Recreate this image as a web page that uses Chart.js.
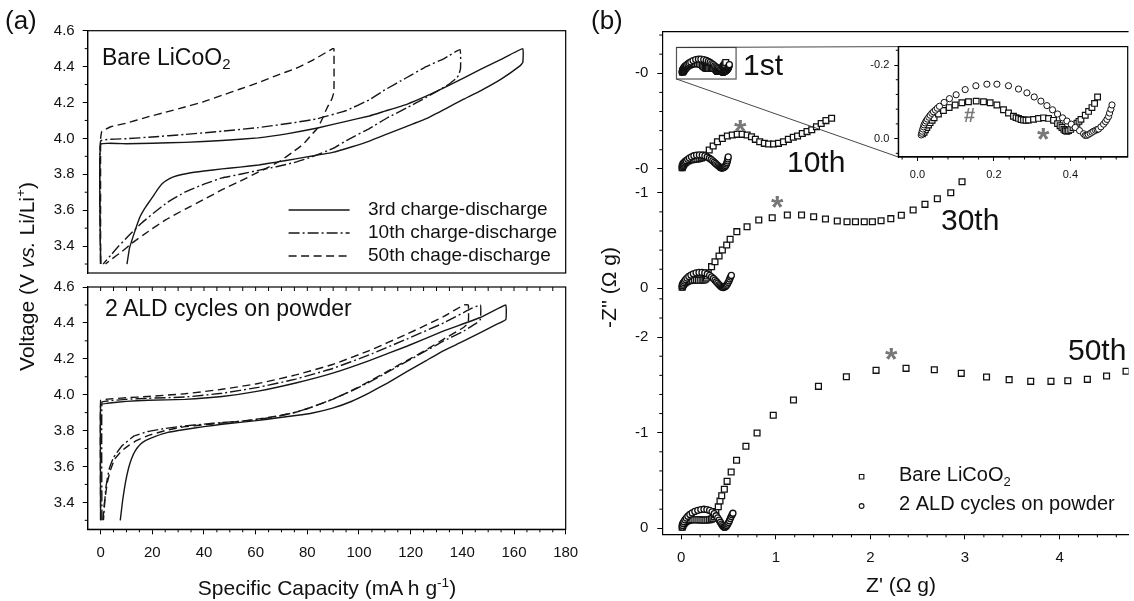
<!DOCTYPE html>
<html>
<head>
<meta charset="utf-8">
<title>LiCoO2 charge-discharge and impedance</title>
<script src="https://cdn.jsdelivr.net/npm/chart.js@4.4.1/dist/chart.umd.min.js"></script>
<style>
  html, body { margin: 0; padding: 0; background: #fff; overflow: hidden; }
  #page { position: relative; width: 1134px; height: 601px; overflow: hidden;
          font-family: "Liberation Sans", Arial, Helvetica, sans-serif; color: #111; }
  canvas { position: absolute; }
  .lbl { position: absolute; white-space: nowrap; line-height: 1; }
  .rot { text-align: center; transform: rotate(-90deg); transform-origin: 50% 50%; }
  .star { color: #777; font-weight: bold; }
  sub, sup { font-size: 0.65em; line-height: 0; }
  sub { vertical-align: -0.3em; }
  sup { vertical-align: 0.6em; }
</style>
</head>
<body>
<div id="page">
  <canvas id="capTop" width="600" height="290" style="left:0px;top:0px"></canvas>
  <canvas id="capBottom" width="600" height="331" style="left:0px;top:270px"></canvas>
  <canvas id="nyqMain" width="544" height="601" style="left:590px;top:0px"></canvas>
  <canvas id="nyqInset" width="284" height="160" style="left:850px;top:35px"></canvas>

  <div class="lbl" style="left:5px;top:7px;font-size:26px">(a)</div>
  <div class="lbl" style="left:591px;top:7px;font-size:26px">(b)</div>
  <div class="lbl" style="left:102px;top:46px;font-size:23px">Bare LiCoO<sub>2</sub></div>
  <div class="lbl" style="left:105px;top:297px;font-size:23px">2 ALD cycles on powder</div>
  <div class="lbl" style="left:127px;width:400px;text-align:center;top:577px;font-size:21px">Specific Capacity (mA h g<sup>-1</sup>)</div>
  <div class="lbl rot" style="left:-124px;top:266px;width:300px;font-size:21px">Voltage (V <i>vs.</i> Li/Li<sup>+</sup>)</div>

  <div class="lbl" style="left:751px;width:300px;text-align:center;top:574px;font-size:21px">Z' (&Omega; g)</div>
  <div class="lbl rot" style="left:458px;top:277px;width:300px;font-size:21px">-Z'' (&Omega; g)</div>
  <div class="lbl" style="left:743px;top:50px;font-size:30px">1st</div>
  <div class="lbl" style="left:787px;top:147px;font-size:30px">10th</div>
  <div class="lbl" style="left:941px;top:205px;font-size:30px">30th</div>
  <div class="lbl" style="left:1068px;top:335px;font-size:30px">50th</div>
  <div class="lbl star" style="left:734px;top:115px;font-size:32px">*</div>
  <div class="lbl star" style="left:771px;top:191px;font-size:32px">*</div>
  <div class="lbl star" style="left:885px;top:343px;font-size:32px">*</div>
  <div class="lbl star" style="left:1037px;top:123px;font-size:32px">*</div>
  <div class="lbl star" style="left:964px;top:105px;font-size:20px">#</div>
</div>

<script>
// ---------- panel (a): specific capacity (mA h g-1) vs voltage (V) ----------
const capTicks = [0, 20, 40, 60, 80, 100, 120, 140, 160, 180];
const capMinor = [5, 10, 15, 25, 30, 35, 45, 50, 55, 65, 70, 75, 85, 90, 95, 105, 110, 115,
                  125, 130, 135, 145, 150, 155, 165, 170, 175];
const voltTicks = [3.4, 3.6, 3.8, 4.0, 4.2, 4.4, 4.6];
const voltLabels = ['3.4', '3.6', '3.8', '4.0', '4.2', '4.4', '4.6'];
const voltMinor = [3.3, 3.5, 3.7, 3.9, 4.1, 4.3, 4.5];
const cycleLabels = ['3rd charge-discharge', '10th charge-discharge', '50th chage-discharge'];

// bare LiCoO2
const bare3 = [[0,3.30],[0,3.967],[10,3.970],[20,3.973],[32.6,3.978],[47,3.988],[61,4.003],[72,4.025],
  [84,4.058],[95,4.095],[104,4.125],[110,4.152],[118.5,4.19],[126,4.235],[134,4.29],[141,4.34],[147,4.385],
  [155,4.44],[163.4,4.50],[163.4,4.423],[162.3,4.404],[155,4.33],[147,4.265],[140,4.215],[134,4.169],
  [126,4.11],[118.5,4.067],[111,4.025],[104,3.985],[97,3.952],[89.8,3.922],[82,3.902],[75.5,3.886],
  [68,3.868],[61.2,3.852],[54,3.84],[47,3.83],[40,3.818],[34,3.806],[29.5,3.792],[26.5,3.775],[24,3.75],
  [22,3.715],[20.2,3.675],[18.5,3.64],[16.9,3.606],[15.3,3.565],[14,3.515],[12.5,3.45],[11.2,3.39],[10.2,3.30]];
const bare10 = [[0,3.30],[0,3.985],[10,3.998],[20,4.008],[32.6,4.022],[47,4.04],[61,4.06],[75,4.088],
  [84,4.11],[95,4.155],[104,4.215],[110,4.27],[118,4.335],[126,4.40],[133,4.445],[139.1,4.495],[139.3,4.39],
  [138.5,4.35],[137.3,4.33],[134.6,4.30],[126,4.228],[118.5,4.17],[111,4.115],[104,4.055],[96,3.995],
  [90,3.945],[82,3.898],[75.5,3.868],[68,3.842],[61,3.822],[54,3.80],[47,3.78],[40,3.745],[32.6,3.70],
  [26,3.645],[21,3.59],[16,3.53],[11,3.46],[7,3.40],[4,3.35],[1,3.30]];
const bare50 = [[0,3.30],[0,4.0],[0.5,4.04],[4,4.065],[10,4.085],[18.3,4.12],[25,4.145],[32.6,4.175],
  [40,4.205],[47,4.24],[54,4.275],[61,4.31],[68,4.35],[75.5,4.39],[82,4.435],[89.8,4.5],[90.3,4.5],
  [90.3,4.26],[89.5,4.22],[88,4.18],[87,4.15],[85.5,4.10],[84,4.058],[81,4.01],[78.4,3.967],[74,3.92],
  [69.8,3.877],[65,3.84],[61.2,3.813],[54,3.762],[47,3.714],[40,3.66],[32.6,3.605],[25,3.545],[18.3,3.48],
  [12,3.415],[8.3,3.37],[4.5,3.33],[1.9,3.30]];

// 2 ALD cycles on powder
const ald3 = [[0,3.30],[0,3.944],[2.6,3.952],[10,3.963],[18.3,3.969],[32.6,3.974],[47,3.99],[61,4.02],
  [75.5,4.065],[89.8,4.12],[104,4.19],[118.5,4.27],[132.8,4.355],[147,4.43],[156.8,4.50],[156.8,4.418],
  [153,4.39],[147,4.346],[140,4.295],[132.8,4.246],[126,4.19],[118.5,4.128],[111,4.065],[104,4.01],
  [97,3.962],[89.8,3.925],[82,3.898],[75.5,3.884],[68,3.87],[61.2,3.857],[54,3.846],[47,3.835],[40,3.822],
  [32.6,3.806],[26,3.79],[21.2,3.768],[17.5,3.745],[15.5,3.725],[13.5,3.69],[12,3.645],[10.8,3.59],
  [9.6,3.51],[8.6,3.42],[7.6,3.30]];
const ald10 = [[0.5,3.30],[0.5,3.958],[2.6,3.965],[10,3.974],[18.3,3.98],[32.6,3.987],[47,4.008],[61,4.041],
  [75.5,4.087],[89.8,4.146],[104,4.222],[118.5,4.31],[132.8,4.40],[142.8,4.475],[147,4.50],[147,4.42],
  [145.6,4.40],[140,4.35],[132.8,4.30],[126,4.245],[118.5,4.185],[111,4.125],[104,4.07],[97,4.02],
  [89.8,3.975],[82,3.932],[75.5,3.902],[68,3.878],[61.2,3.862],[54,3.852],[47,3.845],[40,3.836],
  [32.6,3.826],[25,3.812],[18.3,3.795],[13,3.77],[8.3,3.715],[5,3.65],[3.3,3.585],[2,3.48],[1.1,3.30]];
const ald50 = [[0,3.30],[0,3.968],[2.6,3.975],[10,3.983],[18.3,3.99],[32.6,4.005],[47,4.03],[61,4.062],
  [75.5,4.11],[89.8,4.168],[104,4.246],[118.5,4.337],[132.8,4.436],[140.6,4.50],[142.3,4.50],[142.3,4.40],
  [140,4.37],[132.8,4.31],[126,4.25],[118.5,4.19],[111,4.13],[104,4.074],[97,4.022],[89.8,3.974],[82,3.932],
  [75.5,3.902],[68,3.88],[61.2,3.865],[54,3.852],[47,3.842],[40,3.832],[32.6,3.822],[25,3.80],[18.3,3.772],
  [14,3.745],[11.2,3.72],[8,3.685],[5.4,3.64],[3.8,3.58],[2.6,3.51],[1.5,3.40],[0.9,3.30]];

// ---------- panel (b): Nyquist plots, [Z' , -Z''] in ohm g ----------
const cycleNames = ['1st', '10th', '30th', '50th'];
const cycleOffsets = [4.76, 3.76, 2.51, 0];
const zTicks = [0, 1, 2, 3, 4];
const zMinor = [0.2, 0.4, 0.6, 0.8, 1.2, 1.4, 1.6, 1.8, 2.2, 2.4, 2.6, 2.8, 3.2, 3.4, 3.6, 3.8, 4.2, 4.4, 4.6];
const zzTicks = [0, 1, 2, 2.51, 3.51, 3.76, 4.76];
const zzLabels = ['0', '-1', '-2', '0', '-1', '-0', '-0'];
const zzMinor = [0.2, 0.4, 0.6, 0.8, 1.2, 1.4, 1.6, 1.8, 2.2, 2.4, 2.71, 2.91, 3.11, 3.31, 3.96, 4.16, 4.36, 4.56, 4.96, 5.16];
const insetXTicks = [0, 0.2, 0.4];
const insetXLabels = ['0.0', '0.2', '0.4'];
const insetXMinor = [-0.04, 0.04, 0.08, 0.12, 0.16, 0.24, 0.28, 0.32, 0.36, 0.44, 0.48, 0.52];
const insetYTicks = [0, 0.2];
const insetYLabels = ['0.0', '-0.2'];
const insetYMinor = [-0.04, 0.04, 0.08, 0.12, 0.16, 0.24];
const seriesNames = [['Bare LiCoO', '2'], ['2 ALD cycles on powder', '']];

const nyqAld1 = [[.010,.010],[.0115,.0146],[.0125,.020],[.0141,.0261],[.016,.032],[.0175,.0373],[.020,.0425],
  [.0228,.0478],[.026,.053],[.0298,.0582],[.0335,.0635],[.0377,.0687],[.042,.073],[.0471,.0773],[.052,.0825],
  [.0576,.0877],[.0699,.0982],[.0838,.1086],[.1013,.1191],[.1249,.1332],[.1529,.1436],[.1817,.1478],
  [.2079,.1478],[.2382,.1436],[.2644,.1347],[.2864,.1243],[.3055,.1131],[.323,.1018],[.3387,.0896],
  [.3534,.0783],[.3665,.0668],[.3796,.0564],[.3911,.0478],[.4024,.0392],[.4128,.0303],[.4241,.0217],
  [.4346,.0131],[.439,.0086],[.443,.009],[.447,.011],[.452,.014],[.4565,.0172],[.461,.020],[.466,.0225],
  [.470,.0245],[.4738,.0261],[.480,.032],[.4869,.0392],[.492,.046],[.4958,.0522],[.500,.060],[.5026,.0695],
  [.506,.080],[.5089,.0914]];
const nyqBare1 = [[.013,.013],[.0175,.0172],[.021,.024],[.0246,.0303],[.029,.037],[.0332,.0433],[.0385,.050],
  [.0437,.0564],[.055,.0668],[.0681,.0765],[.083,.0843],[.0987,.0914],[.1162,.0974],[.1335,.100],
  [.1537,.1018],[.1728,.100],[.1903,.0974],[.2079,.0914],[.2251,.0783],[.2382,.0695],[.2513,.0608],
  [.258,.057],[.2644,.0548],[.271,.052],[.2775,.0504],[.284,.050],[.2906,.0504],[.3037,.0522],[.3168,.0548],
  [.3298,.0564],[.3429,.0548],[.356,.0496],[.3665,.0407],[.373,.035],[.378,.0303],[.383,.025],[.3866,.0217],
  [.391,.020],[.3953,.0217],[.401,.025],[.4068,.0303],[.412,.036],[.4173,.0418],[.4225,.047],[.4277,.0522],
  [.439,.0634],[.4477,.0739],[.4565,.0843],[.4633,.0956],[.4712,.1131]];
const nyqAld10 = [[.010,.012],[.013,.025],[.017,.038],[.023,.050],[.030,.062],[.040,.074],[.052,.086],
  [.068,.100],[.086,.113],[.108,.126],[.134,.137],[.162,.144],[.192,.146],[.222,.143],[.250,.135],
  [.275,.124],[.297,.111],[.316,.098],[.333,.084],[.349,.070],[.363,.057],[.376,.045],[.389,.034],
  [.401,.024],[.413,.015],[.424,.009],[.434,.008],[.444,.012],[.454,.018],[.463,.026],[.471,.036],
  [.478,.050],[.484,.066],[.489,.084],[.493,.104],[.497,.125]];
const nyqBare10 = [[.010,.012],[.013,.022],[.017,.032],[.022,.042],[.029,.052],[.038,.062],[.049,.071],
  [.062,.079],[.077,.086],[.094,.092],[.113,.097],[.133,.100],[.154,.102],[.175,.104],[.195,.108],
  [.213,.114],[.229,.122],[.242,.132],[.254,.145],[.296,.197],[.338,.239],[.383,.284],[.435,.319],
  [.488,.344],[.540,.354],[.592,.361],[.644,.361],[.697,.354],[.743,.336],[.784,.309],[.830,.284],
  [.879,.267],[.924,.260],[.976,.260],[1.028,.267],[1.081,.284],[1.133,.309],[1.185,.330],[1.230,.344],
  [1.28,.37],[1.33,.39],[1.38,.41],[1.43,.44],[1.48,.475],[1.53,.505],[1.59,.53]];
const nyqAld30 = [[.010,.012],[.013,.028],[.018,.044],[.025,.060],[.034,.076],[.046,.092],[.061,.108],
  [.080,.124],[.102,.139],[.128,.152],[.157,.162],[.188,.167],[.219,.167],[.249,.161],[.276,.150],
  [.300,.136],[.321,.120],[.340,.103],[.357,.086],[.372,.069],[.386,.054],[.399,.040],[.411,.028],
  [.423,.018],[.434,.011],[.445,.009],[.456,.013],[.467,.020],[.477,.030],[.487,.044],[.496,.060],
  [.505,.078],[.513,.098],[.521,.118],[.530,.135]];
const nyqBare30 = [[.010,.012],[.013,.022],[.017,.032],[.023,.042],[.030,.051],[.040,.060],[.052,.068],
  [.066,.075],[.082,.080],[.100,.084],[.120,.086],[.140,.087],[.160,.087],[.180,.086],[.200,.085],
  [.220,.085],[.238,.088],[.253,.095],[.265,.108],[.276,.130],[.286,.164],[.321,.227],[.357,.279],
  [.400,.338],[.435,.401],[.481,.453],[.517,.513],[.588,.593],[.696,.645],[.820,.715],[.962,.739],
  [1.122,.767],[1.272,.767],[1.400,.749],[1.525,.725],[1.650,.704],[1.753,.697],[1.842,.697],[1.935,.697],
  [2.021,.697],[2.113,.708],[2.216,.729],[2.327,.764],[2.452,.820],[2.577,.879],[2.708,.938],[2.850,1.000],
  [2.969,1.116]];
const nyqAld50 = [[.010,.012],[.014,.030],[.020,.050],[.028,.069],[.039,.088],[.053,.107],[.070,.126],
  [.091,.144],[.116,.161],[.144,.176],[.175,.188],[.207,.196],[.240,.199],[.271,.196],[.300,.187],
  [.326,.172],[.349,.153],[.369,.131],[.386,.108],[.401,.085],[.414,.063],[.426,.043],[.437,.027],
  [.447,.015],[.456,.010],[.465,.012],[.474,.019],[.483,.030],[.492,.044],[.501,.061],[.510,.080],
  [.519,.101],[.528,.122],[.538,.142],[.547,.157]];
const nyqBare50 = [[.010,.012],[.014,.024],[.019,.036],[.026,.048],[.035,.059],[.046,.069],[.060,.077],
  [.076,.083],[.094,.087],[.114,.089],[.135,.090],[.156,.090],[.177,.089],[.198,.088],[.219,.087],
  [.240,.086],[.260,.086],[.280,.087],[.300,.090],[.318,.096],[.334,.106],[.348,.122],[.358,.145],
  [.366,.174],[.392,.226],[.410,.286],[.428,.341],[.456,.408],[.485,.491],[.528,.589],[.585,.711],
  [.684,.858],[.802,.997],[.973,1.182],[1.187,1.342],[1.451,1.485],[1.746,1.586],[2.060,1.652],
  [2.377,1.673],[2.676,1.659],[2.961,1.621],[3.228,1.583],[3.467,1.555],[3.695,1.537],[3.909,1.537],
  [4.087,1.544],[4.294,1.558],[4.497,1.593],[4.703,1.642]];

const nyqAld = [nyqAld1, nyqAld10, nyqAld30, nyqAld50];
const nyqBare = [nyqBare1, nyqBare10, nyqBare30, nyqBare50];

// box around the 1st-cycle spectra that the inset enlarges
const zoomBoxX = [-0.05, 0.58];
const zoomBoxY = [-0.06, 0.27];

// ---------- helpers ----------
const FONT = '"Liberation Sans", Arial, Helvetica, sans-serif';
Chart.defaults.font.family = FONT;
Chart.defaults.color = '#111';

const MAIN_POS = { left: 590, top: 0 };
const INSET_POS = { left: 850, top: 35 };

const pairs = arr => arr.map(([x, y]) => ({ x, y }));
const shifted = (arr, dy) => arr.map(([x, y]) => ({ x, y: y + dy }));

function axis(o) {
  return {
    type: 'linear',
    position: o.position,
    display: o.display !== false,
    min: o.min,
    max: o.max,
    afterBuildTicks: scale => { scale.ticks = o.ticks.map(v => ({ value: v })); },
    afterFit: scale => {
      if (o.position === 'left') scale.width = o.size; else scale.height = o.size;
    },
    grid: { drawOnChartArea: false, drawTicks: true, tickLength: o.tickLen, color: '#000', lineWidth: 1 },
    border: { display: true, color: '#000', width: 1.2 },
    ticks: {
      autoSkip: false, maxRotation: 0, minRotation: 0, padding: o.pad, color: '#111',
      font: { size: o.fontSize },
      callback: (v, i) => o.labels[i]
    }
  };
}

function drawRich(ctx, parts, x, y, size) {
  ctx.font = size + 'px ' + FONT;
  ctx.fillText(parts[0], x, y);
  if (parts[1]) {
    const w = ctx.measureText(parts[0]).width;
    ctx.font = Math.round(size * 0.65) + 'px ' + FONT;
    ctx.fillText(parts[1], x + w, y + size * 0.25);
  }
}

// frame, minor ticks and extra drawings on top of a chart
function decor(cfg) {
  return {
    id: 'decor',
    beforeDraw(chart) {
      if (!cfg.whiteArea) return;
      const a = chart.chartArea, ctx = chart.ctx;
      ctx.save();
      ctx.fillStyle = '#fff';
      ctx.fillRect(a.left, a.top, a.right - a.left, a.bottom - a.top);
      ctx.restore();
    },
    afterDraw(chart) {
      const ctx = chart.ctx, a = chart.chartArea;
      ctx.save();
      ctx.strokeStyle = '#000';
      ctx.lineWidth = 1.2;
      if (cfg.frame === 'box') ctx.strokeRect(a.left, a.top, a.right - a.left, a.bottom - a.top);
      if (cfg.frame === 'top') {
        ctx.beginPath(); ctx.moveTo(a.left, a.top); ctx.lineTo(a.right, a.top); ctx.stroke();
      }
      ctx.lineWidth = 1;
      (cfg.minor || []).forEach(m => {
        const s = chart.scales[m.axis];
        m.values.forEach(v => {
          const p = s.getPixelForValue(v);
          ctx.beginPath();
          if (s.isHorizontal()) {
            const y0 = m.edge === 'top' ? a.top : a.bottom;
            ctx.moveTo(p, y0); ctx.lineTo(p, y0 + m.dir * m.len);
          } else {
            ctx.moveTo(a.left, p); ctx.lineTo(a.left + m.dir * m.len, p);
          }
          ctx.stroke();
        });
      });
      if (cfg.extra) cfg.extra(chart, ctx);
      ctx.restore();
    }
  };
}

const lineDash = [[], [11, 3, 2, 3], [8, 4.5]];
function capDatasets(series) {
  return series.map((s, i) => ({
    label: cycleLabels[i],
    data: pairs(s),
    showLine: true,
    pointRadius: 0,
    borderColor: '#161616',
    borderWidth: 1.4,
    borderDash: lineDash[i],
    tension: 0.1,
    fill: false
  }));
}

function baseOptions(padding, scales) {
  return {
    responsive: false,
    animation: false,
    events: [],
    layout: { padding },
    plugins: { legend: { display: false }, tooltip: { enabled: false } },
    scales
  };
}

// ---------- panel (a) top: bare LiCoO2 ----------
new Chart(document.getElementById('capTop'), {
  type: 'scatter',
  data: { datasets: capDatasets([bare3, bare10, bare50]) },
  options: baseOptions({ left: 0, top: 30.7, right: 34.3, bottom: 11 }, {
    x: axis({ position: 'bottom', display: false, min: -5, max: 180, ticks: capTicks, labels: capTicks.map(String), size: 0, tickLen: 0, pad: 0, fontSize: 15 }),
    y: axis({ position: 'left', min: 3.25, max: 4.6, ticks: voltTicks, labels: voltLabels, size: 87.7, tickLen: 5, pad: 8, fontSize: 15 })
  }),
  plugins: [decor({
    frame: 'box',
    minor: [{ axis: 'y', values: voltMinor, dir: -1, len: 3 }],
    extra(chart, ctx) {
      ctx.fillStyle = '#111';
      chart.data.datasets.forEach((ds, i) => {
        const y = 210 + i * 23;
        ctx.strokeStyle = ds.borderColor;
        ctx.lineWidth = ds.borderWidth;
        ctx.setLineDash(ds.borderDash);
        ctx.beginPath(); ctx.moveTo(288.6, y); ctx.lineTo(349.6, y); ctx.stroke();
        ctx.setLineDash([]);
        ctx.font = '19px ' + FONT;
        ctx.textBaseline = 'middle';
        ctx.fillText(ds.label, 368, y);
      });
    }
  })]
});

// ---------- panel (a) bottom: 2 ALD cycles on powder ----------
new Chart(document.getElementById('capBottom'), {
  type: 'scatter',
  data: { datasets: capDatasets([ald3, ald10, ald50]) },
  options: baseOptions({ left: 0, top: 9, right: 34.3, bottom: 0 }, {
    x: axis({ position: 'bottom', min: -5, max: 180, ticks: capTicks, labels: capTicks.map(String), size: 71.7, tickLen: 5, pad: 10, fontSize: 15 }),
    y: axis({ position: 'left', min: 3.25, max: 4.6, ticks: voltTicks, labels: voltLabels, size: 87.7, tickLen: 5, pad: 8, fontSize: 15 })
  }),
  plugins: [decor({
    frame: 'box',
    minor: [
      { axis: 'y', values: voltMinor, dir: -1, len: 3 },
      { axis: 'x', values: capMinor, edge: 'bottom', dir: 1, len: 3 },
      { axis: 'x', values: capTicks.concat(capMinor).filter(v => v < 180), edge: 'top', dir: 1, len: 4 }
    ]
  })]
});

// ---------- panel (b) inset: 1st cycle enlarged ----------
const insetChart = new Chart(document.getElementById('nyqInset'), {
  type: 'scatter',
  data: {
    datasets: [
      { label: seriesNames[1][0], data: pairs(nyqAld1), pointStyle: 'circle', pointRadius: 3.1,
        borderColor: '#111', backgroundColor: '#fff', borderWidth: 1 },
      { label: seriesNames[0].join(''), data: pairs(nyqBare1), pointStyle: 'rect', pointRadius: 4,
        borderColor: '#111', backgroundColor: '#fff', borderWidth: 1.2 }
    ]
  },
  options: baseOptions({ left: 0, top: 8, right: 6.3, bottom: 0 }, {
    x: axis({ position: 'bottom', min: -0.05, max: 0.55, ticks: insetXTicks, labels: insetXLabels, size: 38, tickLen: 4, pad: 7, fontSize: 11 }),
    y: axis({ position: 'left', min: -0.05, max: 0.25, ticks: insetYTicks, labels: insetYLabels, size: 48.3, tickLen: 4, pad: 5, fontSize: 11 })
  }),
  plugins: [decor({
    whiteArea: true,
    frame: 'box',
    minor: [
      { axis: 'x', values: insetXMinor, edge: 'bottom', dir: 1, len: 2.5 },
      { axis: 'y', values: insetYMinor, dir: -1, len: 2.5 }
    ]
  })]
});

// ---------- panel (b) main: Nyquist plots for 1st, 10th, 30th and 50th cycles ----------
const nyqDatasets = [];
nyqAld.forEach((s, i) => nyqDatasets.push({
  label: seriesNames[1][0] + ' ' + cycleNames[i], data: shifted(s, cycleOffsets[i]),
  pointStyle: 'circle', pointRadius: 3, borderColor: '#111', backgroundColor: '#fff', borderWidth: 1.3
}));
nyqBare.forEach((s, i) => nyqDatasets.push({
  label: seriesNames[0].join('') + ' ' + cycleNames[i], data: shifted(s, cycleOffsets[i]),
  pointStyle: 'rect', pointRadius: 4.1, borderColor: '#111', backgroundColor: '#fff', borderWidth: 1.3
}));

new Chart(document.getElementById('nyqMain'), {
  type: 'scatter',
  data: { datasets: nyqDatasets },
  options: baseOptions({ left: 0, top: 31.7, right: 0, bottom: 0 }, {
    x: axis({ position: 'bottom', min: -0.2, max: 4.73, ticks: zTicks, labels: zTicks.map(String), size: 66.7, tickLen: 5, pad: 10, fontSize: 15 }),
    y: axis({ position: 'left', min: -0.063, max: 5.195, ticks: zzTicks, labels: zzLabels, size: 72.3, tickLen: 5, pad: 9, fontSize: 15 })
  }),
  plugins: [decor({
    frame: 'top',
    minor: [
      { axis: 'x', values: zMinor, edge: 'bottom', dir: 1, len: 3 },
      { axis: 'y', values: zzMinor, dir: -1, len: 3 }
    ],
    extra(chart, ctx) {
      const sx = chart.scales.x, sy = chart.scales.y;
      const l = sx.getPixelForValue(zoomBoxX[0]), r = sx.getPixelForValue(zoomBoxX[1]);
      const t = sy.getPixelForValue(zoomBoxY[1] + cycleOffsets[0]);
      const b = sy.getPixelForValue(zoomBoxY[0] + cycleOffsets[0]);
      ctx.strokeStyle = '#555';
      ctx.lineWidth = 1.2;
      ctx.strokeRect(l, t, r - l, b - t);
      const ia = insetChart.chartArea;
      const dx = INSET_POS.left - MAIN_POS.left, dy = INSET_POS.top - MAIN_POS.top;
      ctx.strokeStyle = '#333';
      ctx.lineWidth = 0.9;
      ctx.beginPath();
      ctx.moveTo(l, t); ctx.lineTo(ia.left + dx, ia.top + dy);
      ctx.moveTo(l, b); ctx.lineTo(ia.left + dx, ia.bottom + dy);
      ctx.stroke();

      // legend: one marker per sample
      const rows = [
        { ds: chart.data.datasets[nyqAld.length], name: seriesNames[0], y: 476.7, r: 3.2 },
        { ds: chart.data.datasets[0], name: seriesNames[1], y: 506, r: 2.4 }
      ];
      rows.forEach(row => {
        ctx.fillStyle = '#fff';
        ctx.strokeStyle = row.ds.borderColor;
        ctx.lineWidth = 1.1;
        Chart.helpers.drawPoint(ctx, { pointStyle: row.ds.pointStyle, radius: row.r, rotation: 0, borderWidth: 1.1 }, 271.6, row.y);
        ctx.fillStyle = '#111';
        ctx.textBaseline = 'alphabetic';
        drawRich(ctx, row.name, 309, row.y + 4, 20);
      });
    }
  })]
});
</script>
</body>
</html>
